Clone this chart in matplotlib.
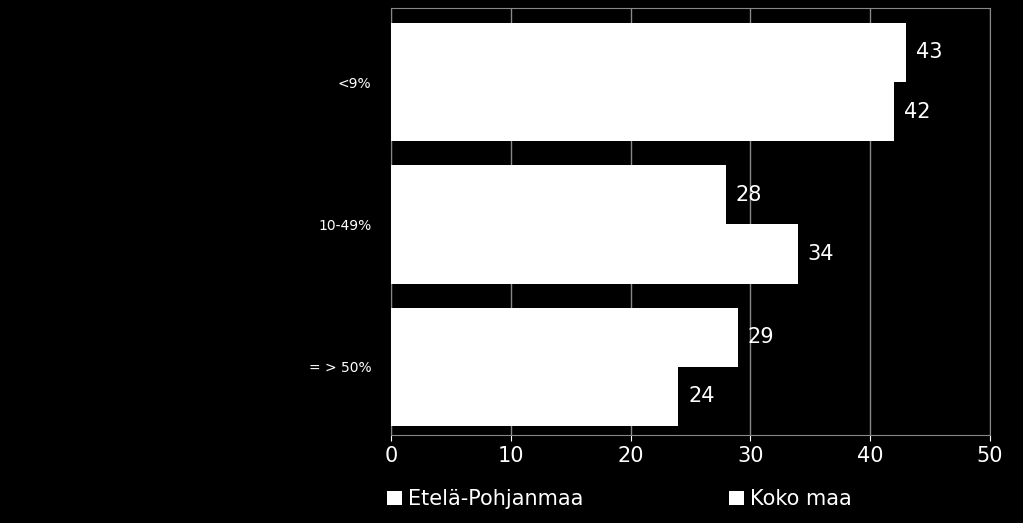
import matplotlib
matplotlib.use("Agg")
import matplotlib.pyplot as plt
import numpy as np

categories = ["<9%", "10-49%", "= > 50%"]
etela = [43, 28, 29]
koko = [42, 34, 24]
series_names = ["Etelä-Pohjanmaa", "Koko maa"]

fig = plt.figure(figsize=(10.23, 5.23), dpi=100, facecolor="black")
ax = fig.add_axes([0.3822, 0.168, 0.5855, 0.8167], facecolor="black")
y = np.arange(len(categories))
h = 0.415
b1 = ax.barh(y - h/2, etela, height=h, color="white", label=series_names[0], zorder=3)
b2 = ax.barh(y + h/2, koko, height=h, color="white", label=series_names[1], zorder=3)
for bars, vals in ((b1, etela), (b2, koko)):
    for r, v in zip(bars, vals):
        ax.text(v + 0.8, r.get_y() + r.get_height()/2, str(v), color="white",
                va="center", ha="left", fontsize=15)
ax.set_xlim(0, 50)
ax.set_ylim(2.48, -0.52)
ax.set_yticks(y)
ax.set_yticklabels(categories, color="white", fontsize=10)
ax.set_xticks(range(0, 51, 10))
ax.tick_params(axis="x", colors="white", labelsize=15, length=4)
ax.tick_params(axis="y", length=0, pad=14)
ax.grid(axis="x", color="#888888", linewidth=1, zorder=0)
for s in ax.spines.values():
    s.set_color("#888888")
leg = fig.legend(handles=[b1, b2], loc="lower left", bbox_to_anchor=(0.36, -0.01),
                 ncol=2, frameon=False, fontsize=15, labelcolor="white",
                 handlelength=0.7, handleheight=0.7, columnspacing=7, handletextpad=0.3)
fig.savefig("out.png", dpi=100, facecolor="black")
